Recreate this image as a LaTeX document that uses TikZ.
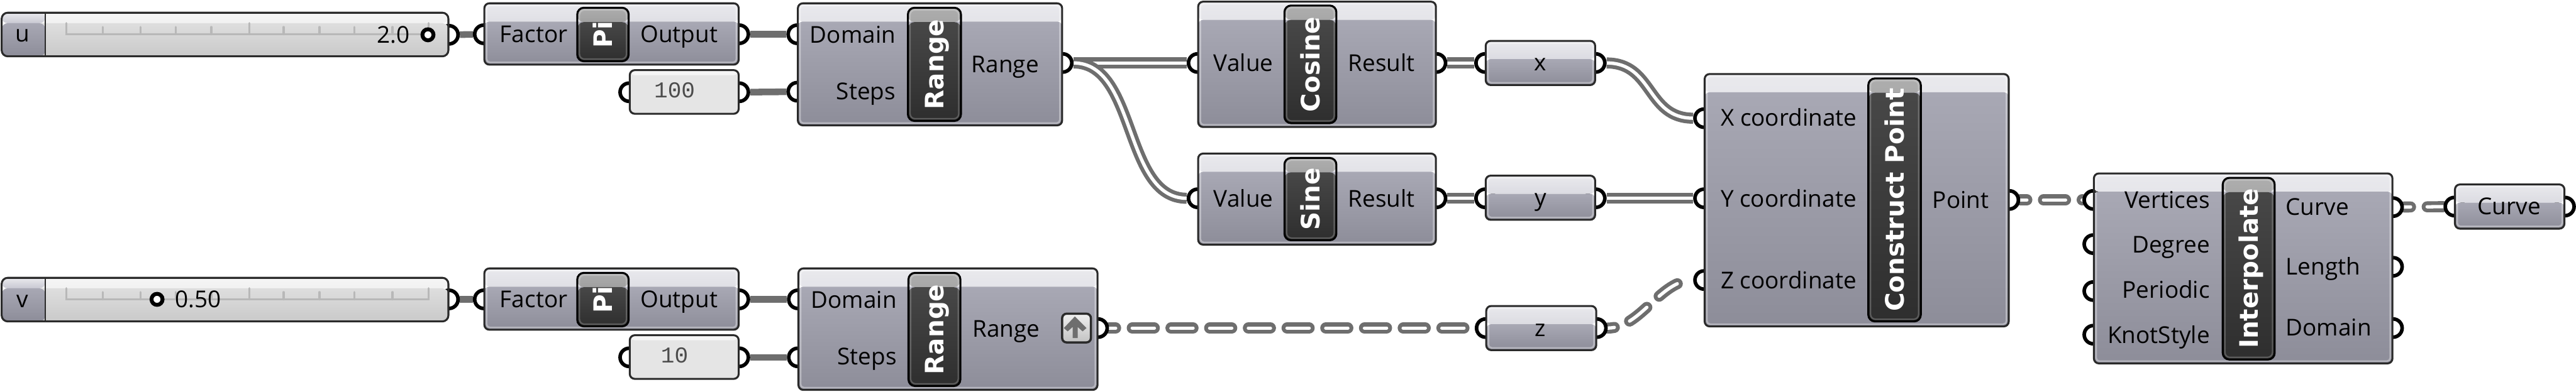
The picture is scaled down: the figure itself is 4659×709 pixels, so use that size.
\documentclass[tikz,border=0pt]{standalone}
\usepackage{fontspec}
\setmainfont{Open Sans}
\setmonofont{Liberation Mono}
\newfontfamily\bandfont{DejaVu Sans}
\usetikzlibrary{positioning,backgrounds}
\definecolor{wiregrey}{HTML}{6E6E6E}
\definecolor{edgedark}{HTML}{2A2A2A}
\definecolor{captop}{HTML}{E9E9ED}
\definecolor{capbot}{HTML}{C8C8D2}
\definecolor{bodytop}{HTML}{A8A8B4}
\definecolor{bodybot}{HTML}{8D8D99}

\begin{document}
\begin{tikzpicture}[
    x=1pt, y=-1pt,
    size/.style 2 args={minimum width=#1pt, minimum height=#2pt},
    comp/.style={draw=edgedark, line width=3.5pt, rounded corners=9pt, anchor=north west, inner sep=0pt, outer sep=0pt,
        path picture={
            \shade[top color=captop, bottom color=capbot] (path picture bounding box.north west) rectangle ([yshift=-33pt]path picture bounding box.north east);
            \shade[top color=bodytop, bottom color=bodybot] ([yshift=-33pt]path picture bounding box.north west) rectangle (path picture bounding box.south east);
            \draw[white, opacity=.35, line width=3pt, rounded corners=6pt] ([shift={(4pt,-4pt)}]path picture bounding box.north west) rectangle ([shift={(-4pt,4pt)}]path picture bounding box.south east);
        }},
    bandbox/.style={draw=black, line width=3.5pt, rounded corners=12pt, anchor=north west, inner sep=0pt, outer sep=0pt,
        path picture={
            \shade[top color=black!32, bottom color=black!52] (path picture bounding box.north west) rectangle ([yshift=-26pt]path picture bounding box.north east);
            \shade[top color=black!72, bottom color=black!82] ([yshift=-26pt]path picture bounding box.north west) rectangle (path picture bounding box.south east);
            \draw[white, opacity=.22, line width=2.5pt, rounded corners=9pt] ([shift={(4pt,-4pt)}]path picture bounding box.north west) rectangle ([shift={(-4pt,4pt)}]path picture bounding box.south east);
        }},
    sliderbox/.style={draw=edgedark, line width=3.5pt, rounded corners=11pt, anchor=north west, inner sep=0pt, outer sep=0pt,
        path picture={
            \shade[top color=black!4, bottom color=black!10] (path picture bounding box.north west) rectangle ([yshift=-19pt]path picture bounding box.north east);
            \shade[top color=black!13, bottom color=black!21] ([yshift=-19pt]path picture bounding box.north west) rectangle (path picture bounding box.south east);
            \shade[top color=captop, bottom color=capbot] (path picture bounding box.north west) rectangle ([shift={(79pt,-19pt)}]path picture bounding box.north west);
            \shade[top color=bodytop, bottom color=bodybot] ([yshift=-19pt]path picture bounding box.north west) rectangle ([xshift=79pt]path picture bounding box.south west);
            \draw[edgedark, line width=3pt] ([xshift=79pt]path picture bounding box.north west) -- ([xshift=79pt]path picture bounding box.south west);
        }},
    panelbox/.style={draw=edgedark, line width=3.5pt, rounded corners=9pt, anchor=north west, inner sep=0pt, outer sep=0pt, fill=black!10,
        path picture={
            \fill[black!4] (path picture bounding box.north west) rectangle ([yshift=-9pt]path picture bounding box.north east);
        }},
    flatbox/.style={draw=edgedark, line width=4pt, rounded corners=8pt, anchor=north west, top color=black!6, bottom color=black!24, size={52}{52}},
    grip/.style={circle, draw=black, fill=white, line width=6.5pt, minimum size=33pt, inner sep=0pt},
    knob/.style={circle, draw=black, fill=white, line width=7pt, minimum size=20pt, inner sep=0pt},
    portlabel/.style={inner sep=0pt, text height=29pt, text depth=0pt, font=\fontsize{42}{48}\selectfont},
    inlabel/.style={portlabel, anchor=east},
    outlabel/.style={portlabel, anchor=west},
    smalllabel/.style={inner sep=0pt, text height=22pt, text depth=0pt, font=\fontsize{42}{48}\selectfont},
    paneltext/.style={inner sep=0pt, text=black!70, font=\ttfamily\fontsize{41}{48}\selectfont},
    bandlabel/.style={rotate=90, inner sep=0pt, text=white, text height=34pt, text depth=0pt, font=\bandfont\bfseries\fontsize{46}{50}\selectfont},
    wire/.style={wiregrey, line width=12pt},
    wiredbl/.style={draw=wiregrey, double=white, line width=7pt, double distance=6pt},
    wiretree/.style={wiredbl, line cap=round, dash pattern=on 40pt off 30pt, dash phase=28pt},
    track/.pic={
        \draw[black!28, line width=4pt, line cap=round] (120,-20) -- (120,0) -- (775,0) -- (775,-20)
            (186,-13) -- (186,0) (254,-13) -- (254,0) (318,-13) -- (318,0) (382,-13) -- (382,0)
            (451,-20) -- (451,0) (513,-13) -- (513,0) (578,-13) -- (578,0) (641,-13) -- (641,0) (710,-13) -- (710,0);
    }
]
\useasboundingbox (0,0) rectangle (4659,709);

% grips go first, the boxes cover their inner half
\node[grip] (u-out) at (812,63) {};
\node[grip] (v-out) at (812,542) {};
\node[grip] (piu-in) at (875,62) {};
\node[grip] (piu-out) at (1337,62) {};
\node[grip] (piv-in) at (875,542) {};
\node[grip] (piv-out) at (1337,542) {};
\node[grip] (hundred-in) at (1138,167) {};
\node[grip] (hundred-out) at (1337,167) {};
\node[grip] (ten-in) at (1138,647) {};
\node[grip] (ten-out) at (1337,647) {};
\node[grip] (rangeu-dom) at (1442,62) {};
\node[grip] (rangeu-steps) at (1442,166) {};
\node[grip] (rangeu-out) at (1922,114) {};
\node[grip] (rangev-dom) at (1443,542) {};
\node[grip] (rangev-steps) at (1443,647) {};
\node[grip] (rangev-out) at (1986,594) {};
\node[grip] (cos-in) at (2166,114) {};
\node[grip] (cos-out) at (2598,114) {};
\node[grip] (sin-in) at (2166,359) {};
\node[grip] (sin-out) at (2598,359) {};
\node[grip] (x-in) at (2686,114) {};
\node[grip] (x-out) at (2886,114) {};
\node[grip] (y-in) at (2686,359) {};
\node[grip] (y-out) at (2886,359) {};
\node[grip] (z-in) at (2687,594) {};
\node[grip] (z-out) at (2888,594) {};
\node[grip] (cp-x) at (3082,214) {};
\node[grip] (cp-y) at (3082,359) {};
\node[grip] (cp-z) at (3082,507) {};
\node[grip] (cp-out) at (3634,362) {};
\node[grip] (itp-vert) at (3786,362) {};
\node[grip] (itp-deg) at (3786,442) {};
\node[grip] (itp-per) at (3786,527) {};
\node[grip] (itp-knot) at (3786,606) {};
\node[grip] (itp-curve) at (4328,375) {};
\node[grip] (itp-len) at (4328,483) {};
\node[grip] (itp-dom) at (4328,594) {};
\node[grip] (crv-in) at (4439,374) {};
\node[grip] (crv-out) at (4639,374) {};

% sliders
\node[sliderbox, size={808}{79}] (u) at (3,23) {};
\pic at (0,62) {track};
\node[smalllabel] (u-name) at (41,65) {u};
\node[knob] (u-knob) at (774,63) {};
\node[portlabel, anchor=east] (u-value) at (741,63) {2.0};
\node[sliderbox, size={808}{79}] (v) at (3,503) {};
\pic at (0,542) {track};
\node[smalllabel] (v-name) at (41,546) {v};
\node[knob] (v-knob) at (284,542) {};
\node[portlabel, anchor=west] (v-value) at (317,542) {0.50};

% pi
\node[comp, size={460}{111}] (piu) at (876,6) {};
\node[bandbox, size={93}{97}] (piu-band) at (1044,14) {};
\node[bandlabel] (piu-title) at (1090.5,62.5) {Pi};
\node[outlabel] (piu-factor) at (904,62) {Factor};
\node[outlabel] (piu-output) at (1158,62) {Output};
\node[comp, size={460}{111}] (piv) at (876,486) {};
\node[bandbox, size={93}{97}] (piv-band) at (1044,494) {};
\node[bandlabel] (piv-title) at (1090.5,542.5) {Pi};
\node[outlabel] (piv-factor) at (904,542) {Factor};
\node[outlabel] (piv-output) at (1158,542) {Output};

% panels
\node[panelbox, size={197}{79}] (hundred) at (1139,127) {};
\node[paneltext] (hundred-text) at (1220,163) {100};
\node[panelbox, size={197}{79}] (ten) at (1139,607) {};
\node[paneltext] (ten-text) at (1220,643) {10};

% ranges
\node[comp, size={478}{221}] (rangeu) at (1443,6) {};
\node[bandbox, size={96}{205}] (rangeu-band) at (1642,14) {};
\node[bandlabel] (rangeu-title) at (1690,116.5) {Range};
\node[inlabel] (rangeu-domain) at (1620,63) {Domain};
\node[inlabel] (rangeu-stepsl) at (1620,166) {Steps};
\node[outlabel] (rangeu-range) at (1757,117) {Range};
\node[comp, size={541}{220}] (rangev) at (1444,486) {};
\node[bandbox, size={94}{205}] (rangev-band) at (1643,494) {};
\node[bandlabel] (rangev-title) at (1690,596.5) {Range};
\node[inlabel] (rangev-domain) at (1622,543) {Domain};
\node[inlabel] (rangev-stepsl) at (1622,646) {Steps};
\node[outlabel] (rangev-range) at (1759,596) {Range};
\node[flatbox] (rangev-flat) at (1919,566) {};
\fill[wiregrey] (1944,573) -- (1965,594) -- (1958,600) -- (1949,592) -- (1949,612) -- (1940,612) -- (1940,592) -- (1931,600) -- (1924,594) -- cycle;

% cosine, sine
\node[comp, size={430}{227}] (cos) at (2167,3) {};
\node[bandbox, size={94}{213}] (cos-band) at (2323,10) {};
\node[bandlabel] (cos-title) at (2370,116.5) {Cosine};
\node[outlabel] (cos-value) at (2195,115) {Value};
\node[outlabel] (cos-result) at (2438,115) {Result};
\node[comp, size={430}{165}] (sin) at (2167,278) {};
\node[bandbox, size={94}{149}] (sin-band) at (2323,286) {};
\node[bandlabel] (sin-title) at (2370,360.5) {Sine};
\node[outlabel] (sin-value) at (2195,360) {Value};
\node[outlabel] (sin-result) at (2438,360) {Result};

% params
\node[comp, size={198}{80}] (x) at (2687,74) {};
\node[smalllabel] (x-name) at (2786,117) {x};
\node[comp, size={198}{80}] (y) at (2687,318) {};
\node[smalllabel] (y-name) at (2786,361) {y};
\node[comp, size={199}{80}] (z) at (2688,554) {};
\node[smalllabel] (z-name) at (2786,598) {z};

% construct point
\node[comp, size={550}{457}] (cp) at (3083,134) {};
\node[bandbox, size={95}{440}] (cp-band) at (3379,142) {};
\node[bandlabel] (cp-title) at (3426.5,362) {Construct Point};
\node[outlabel] (cp-xl) at (3112,214) {X coordinate};
\node[outlabel] (cp-yl) at (3112,360) {Y coordinate};
\node[outlabel] (cp-zl) at (3112,508) {Z coordinate};
\node[outlabel] (cp-point) at (3495,362) {Point};

% interpolate
\node[comp, size={540}{344}] (itp) at (3787,314) {};
\node[bandbox, size={94}{329}] (itp-band) at (4020,322) {};
\node[bandlabel] (itp-title) at (4067,486) {Interpolate};
\node[inlabel] (itp-vertl) at (3997,362) {Vertices};
\node[inlabel] (itp-degl) at (3997,443) {Degree};
\node[inlabel] (itp-perl) at (3997,525) {Periodic};
\node[inlabel] (itp-knotl) at (3997,607) {KnotStyle};
\node[outlabel] (itp-curvel) at (4134,375) {Curve};
\node[outlabel] (itp-lenl) at (4134,483) {Length};
\node[outlabel] (itp-doml) at (4134,593) {Domain};

% curve
\node[comp, size={198}{80}] (crv) at (4440,334) {};
\node[portlabel] (crv-name) at (4538,374) {Curve};

% wires
\begin{scope}[on background layer]
\draw[wire] (u-out) -- (piu-in);
\draw[wire] (v-out) -- (piv-in);
\draw[wire] (piu-out) -- (rangeu-dom);
\draw[wire] (piv-out) -- (rangev-dom);
\draw[wire] (hundred-out) -- (rangeu-steps);
\draw[wire] (ten-out) -- (rangev-steps);
\draw[wiredbl] (rangeu-out) -- (cos-in);
\draw[wiredbl] (rangeu-out.east) .. controls +(115,0) and +(-115,0) .. (sin-in.west);
\draw[wiredbl] (cos-out) -- (x-in);
\draw[wiredbl] (sin-out) -- (y-in);
\draw[wiredbl] (x-out.east) .. controls +(85,0) and +(-85,0) .. (cp-x.west);
\draw[wiredbl] (y-out) -- (cp-y);
\draw[wiretree] (rangev-out) -- (z-in);
\draw[wiretree] (z-out.east) .. controls +(60,0) and +(-60,0) .. (cp-z.west);
\draw[wiretree] (cp-out) -- (itp-vert);
\draw[wiretree] (itp-curve) -- (crv-in);
\end{scope}
\end{tikzpicture}
\end{document}
